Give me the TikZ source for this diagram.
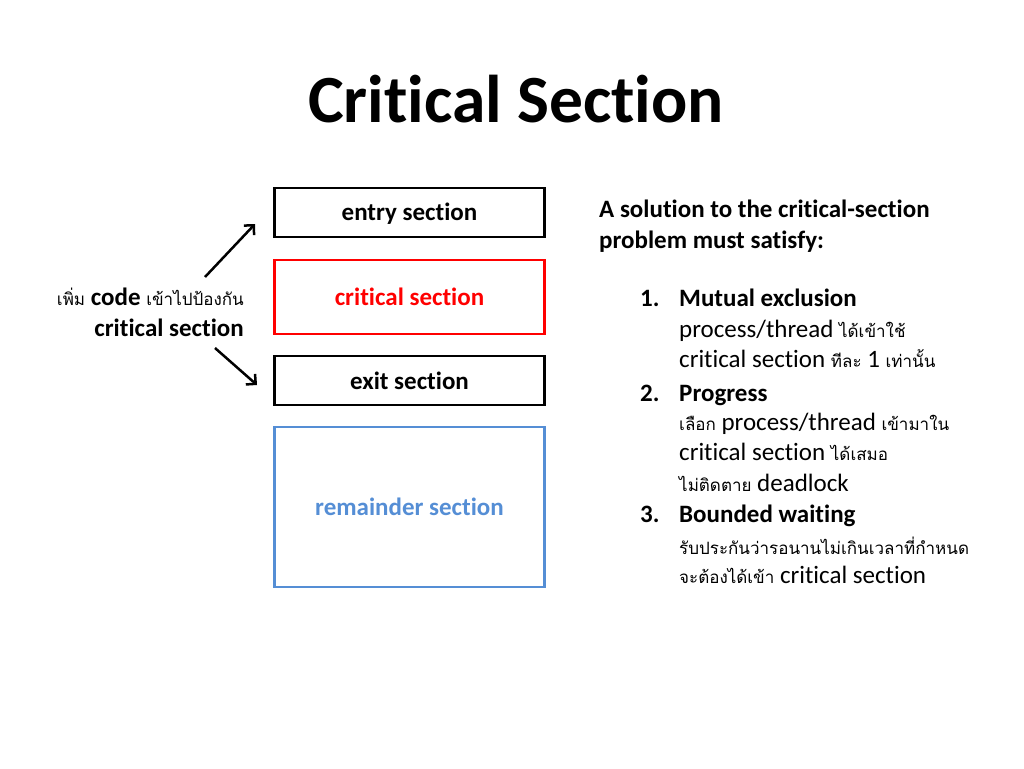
\documentclass[tikz,border=0pt]{standalone}
\usepackage{fontspec}
\setmainfont{Carlito}[Ligatures=NoCommon, RawFeature={-liga;-calt}]
\newfontfamily\thaifont[Script=Thai]{Loma}
\usetikzlibrary{arrows.meta}
\definecolor{csred}{RGB}{255,0,0}
\definecolor{csblue}{RGB}{85,142,213}
\newcommand\thtxt[1]{{\thaifont\fontsize{17}{30}\selectfont #1}}
\begin{document}
\begin{tikzpicture}[x=1pt,y=-1pt,
  every node/.style={inner sep=0pt},
  txt/.style={font=\fontsize{25}{30}\selectfont, anchor=mid west},
  btxt/.style={font=\fontsize{25}{30}\selectfont\bfseries, anchor=mid west},
  secbox/.style={draw, line width=2.5pt, minimum width=270pt, font=\fontsize{25}{30}\selectfont\bfseries},
  arr/.style={line width=2.5pt, -{Straight Barb[length=7pt,width=14pt]}}]
\useasboundingbox (0,0) rectangle (1024,768);
\node[font=\fontsize{67.5}{75}\selectfont\bfseries, anchor=base] (title) at (516,122) {Critical Section};
% boxes
\node[secbox, minimum height=49pt, text depth=2pt] (entry) at (409.5,212.5) {entry section};
\node[secbox, minimum height=74pt, draw=csred, text=csred] (crit) at (409.5,297) {critical section};
\node[secbox, minimum height=49pt] (exit) at (409.5,380.5) {exit section};
\node[secbox, minimum height=160pt, draw=csblue, text=csblue] (rem) at (409.5,507) {remainder section};
% left text
\node[txt, anchor=mid east] (l1) at (244,303) {\thtxt{เพิ่ม} \textbf{code} \thtxt{เข้าไปป้องกัน}};
\node[btxt, anchor=mid east] (l2) at (244,334) {critical section};
\coordinate (a1s) at (205,277);
\coordinate (a1e) at (255,224);
\coordinate (a2s) at (215,348);
\coordinate (a2e) at (257,385);
\draw[arr] (a1s) -- (a1e);
\draw[arr] (a2s) -- (a2e);
% right text
\node[btxt] (r1) at (599,215) {A solution to the critical-section};
\node[btxt] (r2) at (599,246) {problem must satisfy:};
\node[btxt] (n1) at (640,304) {1.};
\node[btxt] (h1) at (679,304) {Mutual exclusion};
\node[txt] (t11) at (679,335) {process/thread \thtxt{ได้เข้าใช้}};
\node[txt] (t12) at (679,365) {critical section \thtxt{ทีละ} 1 \thtxt{เท่านั้น}};
\node[btxt] (n2) at (640,399) {2.};
\node[btxt] (h2) at (679,399) {Progress};
\node[txt] (t21) at (679,428) {\thtxt{เลือก} process/thread \thtxt{เข้ามาใน}};
\node[txt] (t22) at (679,458) {critical section \thtxt{ได้เสมอ}};
\node[txt] (t23) at (679,489) {\thtxt{ไม่ติดตาย} deadlock};
\node[btxt] (n3) at (640,520) {3.};
\node[btxt] (h3) at (679,520) {Bounded waiting};
\node[txt] (t31) at (679,552) {\thtxt{รับประกันว่ารอนานไม่เกินเวลาที่กำหนด}};
\node[txt] (t32) at (679,581) {\thtxt{จะต้องได้เข้า} critical section};
\end{tikzpicture}
\end{document}
